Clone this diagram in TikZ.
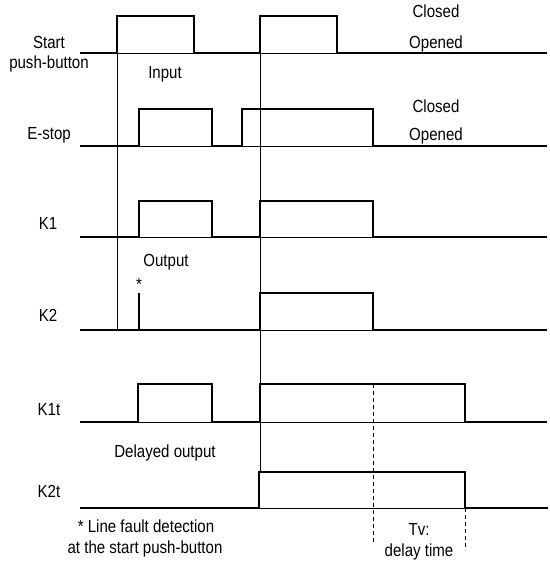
\documentclass[tikz,border=0pt]{standalone}
\usepackage{fontspec}
\setmainfont{Liberation Sans}[FakeStretch=0.86]
\tikzset{
  sig/.style={line width=2pt, line join=miter},
  guide/.style={line width=0.8pt},
  lbl/.style={anchor=base, inner sep=0pt},
}
\begin{document}
\begin{tikzpicture}[x=1pt, y=-1pt, font=\fontsize{17.5}{21}\selectfont]
  \useasboundingbox (0,0) rectangle (549,562);
  % thin base lines and markers
  \foreach \b in {53,146,237,330,422,508}
    \draw[guide] (80,\b) -- (547,\b);
  \draw[guide] (117,53) -- (117,330);
  \draw[guide] (260,16) -- (260,472);
  \draw[guide, dash pattern=on 4pt off 3pt] (373,384) -- (373,543);
  \draw[guide, dash pattern=on 4pt off 3pt] (465,508) -- (465,550);
  % signals
  \draw[sig] (80,53) -- (117,53) -- (117,16) -- (194,16) -- (194,53) -- (260,53)
    -- (260,16) -- (337,16) -- (337,53) -- (547,53);
  \draw[sig] (80,146) -- (139,146) -- (139,109) -- (212,109) -- (212,146) -- (242,146)
    -- (242,109) -- (373,109) -- (373,146) -- (547,146);
  \draw[sig] (80,237) -- (139,237) -- (139,201) -- (212,201) -- (212,237) -- (260,237)
    -- (260,201) -- (373,201) -- (373,237) -- (547,237);
  \draw[sig] (80,330) -- (260,330) -- (260,293) -- (373,293) -- (373,330) -- (547,330);
  \draw[sig] (139,330) -- (139,293);
  \draw[sig] (80,422) -- (138,422) -- (138,384) -- (212,384) -- (212,422) -- (260,422)
    -- (260,384) -- (465,384) -- (465,422) -- (547,422);
  \draw[sig] (80,508) -- (259,508) -- (259,472) -- (465,472) -- (465,508) -- (548,508);
  % labels
  \node[lbl] (startlbl) at (49,48) {Start};
  \node[lbl] (pushlbl) at (49,68) {push-button};
  \node[lbl] (inputlbl) at (165,78) {Input};
  \node[lbl] (closeda) at (436,17) {Closed};
  \node[lbl] (openeda) at (436,48) {Opened};
  \node[lbl] (estoplbl) at (49,139) {E-stop};
  \node[lbl] (closedb) at (436,112) {Closed};
  \node[lbl] (openedb) at (436,140) {Opened};
  \node[lbl] (konelbl) at (48,229) {K1};
  \node[lbl] (outputlbl) at (166,266) {Output};
  \node[lbl] (faultmark) at (139,290) {*};
  \node[lbl] (ktwolbl) at (48,321) {K2};
  \node[lbl] (konetlbl) at (49,415) {K1t};
  \node[lbl] (delayedlbl) at (165,457) {Delayed output};
  \node[lbl] (ktwotlbl) at (49,497) {K2t};
  \node[lbl] (notea) at (146,532) {* Line fault detection};
  \node[lbl] (noteb) at (145,553) {at the start push-button};
  \node[lbl] (tvlbl) at (419,535) {Tv:};
  \node[lbl] (delaylbl) at (419,556) {delay time};
\end{tikzpicture}
\end{document}
